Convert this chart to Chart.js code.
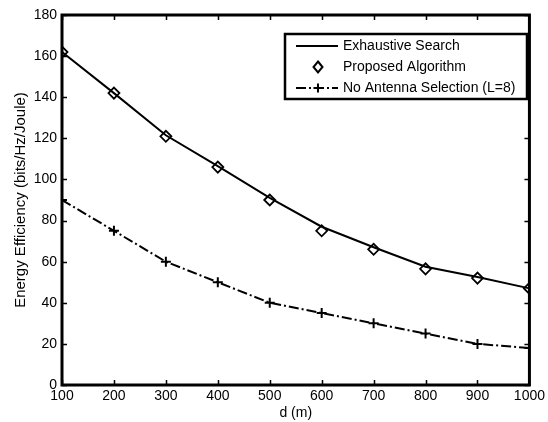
<!DOCTYPE html>
<html><head><meta charset="utf-8">
<script src="https://cdn.jsdelivr.net/npm/chart.js@4/dist/chart.umd.min.js"></script>
<style>html,body{margin:0;padding:0;background:#fff}#wrap{width:548px;height:422px}</style>
</head><body><div id="wrap"><canvas id="c" width="548" height="422"></canvas></div>
<script>
const distances = [100,200,300,400,500,600,700,800,900,1000];
const exhaustive = [162,142,121.5,106.5,91,77,67,57.5,52.5,47];
const proposed = [162,142,121,106,90,75,66,56.5,52,47];
const noSelection = [90,75,60,50,40,35,30,25,20,18];
const yTicks = [0,20,40,60,80,100,120,140,160,180];
const seriesNames = ['Exhaustive Search','Proposed Algorithm','No Antenna Selection (L=8)'];

const FONT = 'Liberation Sans, Arial, sans-serif';
const FS = 14;
const pts = arr => distances.map((d,i)=>({x:d,y:arr[i]}));

const framePlugin = {
  id:'frame',
  afterDatasetsDraw(chart){
    const ctx = chart.ctx, a = chart.chartArea;
    const xs = chart.scales.x, ys = chart.scales.y;
    ctx.save();
    ctx.strokeStyle = '#000';
    ctx.lineWidth = 1.5;
    ctx.beginPath();
    distances.forEach(d=>{
      const px = Math.round(xs.getPixelForValue(d))+0.5;
      ctx.moveTo(px,a.bottom); ctx.lineTo(px,a.bottom-5);
      ctx.moveTo(px,a.top); ctx.lineTo(px,a.top+5);
    });
    yTicks.forEach(v=>{
      const py = Math.round(ys.getPixelForValue(v))+0.5;
      ctx.moveTo(a.left,py); ctx.lineTo(a.left+5,py);
      ctx.moveTo(a.right,py); ctx.lineTo(a.right-5,py);
    });
    ctx.stroke();
    ctx.lineWidth = 3;
    ctx.strokeRect(a.left,a.top,a.right-a.left,a.bottom-a.top);
    // legend
    const bx=285, by=34, bw=242, bh=65;
    ctx.fillStyle='#fff';
    ctx.fillRect(bx,by,bw,bh);
    ctx.lineWidth=2.5;
    ctx.strokeRect(bx,by,bw,bh);
    const rows=[46,67,88];
    const lx1=296, lx2=338, mx=318, tx=343;
    ctx.lineWidth=2;
    ctx.beginPath(); ctx.moveTo(lx1,rows[0]); ctx.lineTo(lx2,rows[0]); ctx.stroke();
    ctx.beginPath();
    ctx.moveTo(mx,rows[1]-5.5); ctx.lineTo(mx+4.5,rows[1]); ctx.lineTo(mx,rows[1]+5.5); ctx.lineTo(mx-4.5,rows[1]); ctx.closePath();
    ctx.stroke();
    ctx.setLineDash([10,3,2,3]);
    ctx.beginPath(); ctx.moveTo(lx1,rows[2]); ctx.lineTo(lx2,rows[2]); ctx.stroke();
    ctx.setLineDash([]);
    ctx.beginPath();
    ctx.moveTo(mx-4.5,rows[2]); ctx.lineTo(mx+4.5,rows[2]);
    ctx.moveTo(mx,rows[2]-4.5); ctx.lineTo(mx,rows[2]+4.5);
    ctx.stroke();
    ctx.fillStyle='#000';
    ctx.font=FS+'px '+FONT;
    ctx.textBaseline='middle';
    ctx.textAlign='left';
    seriesNames.forEach((n,i)=>ctx.fillText(n,tx,rows[i]));
    ctx.restore();
  }
};

new Chart(document.getElementById('c'),{
  type:'line',
  data:{datasets:[
    {label:seriesNames[0],data:pts(exhaustive),borderColor:'#000',borderWidth:2,pointRadius:0,tension:0,fill:false},
    {label:seriesNames[1],data:pts(proposed),showLine:false,borderColor:'#000',pointStyle:'rectRot',pointRadius:5.5,pointBorderWidth:1.8,pointBorderColor:'#000',pointBackgroundColor:'rgba(0,0,0,0)'},
    {label:seriesNames[2],data:pts(noSelection),borderColor:'#000',borderWidth:2,borderDash:[10,3,2,3],pointStyle:'cross',pointRadius:5,pointBorderWidth:2,pointBorderColor:'#000',tension:0,fill:false}
  ]},
  options:{
    responsive:false,animation:false,devicePixelRatio:1,
    layout:{padding:{top:15,right:18,left:0,bottom:0}},
    plugins:{legend:{display:false},tooltip:{enabled:false}},
    scales:{
      x:{type:'linear',min:100,max:1000,
        afterBuildTicks:s=>{s.ticks=distances.map(v=>({value:v}));},
        afterFit:s=>{s.height=37;},
        grid:{display:false,drawTicks:false},border:{display:false},
        ticks:{color:'#000',font:{family:FONT,size:FS},padding:3,maxRotation:0,autoSkip:false,callback:v=>String(v)},
        title:{display:true,text:'d (m)',color:'#000',font:{family:FONT,size:FS},padding:{top:0,bottom:0}}},
      y:{type:'linear',min:0,max:180,
        afterBuildTicks:s=>{s.ticks=yTicks.map(v=>({value:v}));},
        afterFit:s=>{s.width=62;},
        grid:{display:false,drawTicks:false},border:{display:false},
        ticks:{color:'#000',font:{family:FONT,size:FS},padding:5,callback:v=>String(v)},
        title:{display:true,text:'Energy Efficiency (bits/Hz/Joule)',color:'#000',font:{family:FONT,size:15},padding:{top:12,bottom:0}}}
    }
  },
  plugins:[framePlugin]
});
</script></body></html>
